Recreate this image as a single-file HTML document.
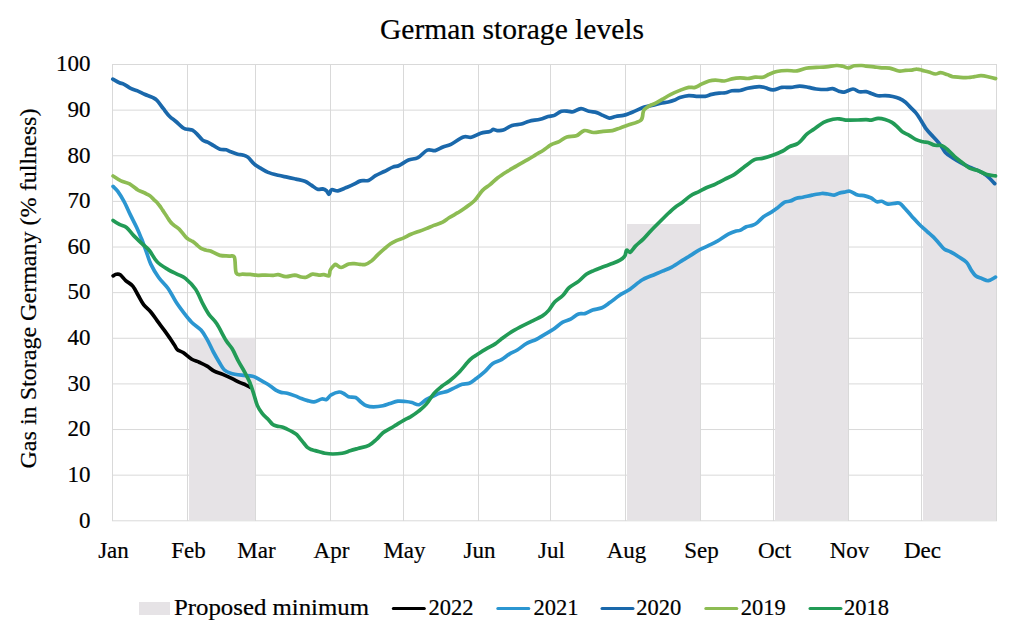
<!DOCTYPE html><html><head><meta charset="utf-8"><style>html,body{margin:0;padding:0;background:#fff;}svg{display:block;}text{font-family:"Liberation Serif",serif;fill:#000;stroke:#000;stroke-width:0.2px;}</style></head><body>
<svg width="1024" height="637" viewBox="0 0 1024 637">
<rect x="0" y="0" width="1024" height="637" fill="#fff"/>
<line x1="112" y1="520.80" x2="997" y2="520.80" stroke="#d9d9d9" stroke-width="1"/>
<line x1="112" y1="475.17" x2="997" y2="475.17" stroke="#d9d9d9" stroke-width="1"/>
<line x1="112" y1="429.54" x2="997" y2="429.54" stroke="#d9d9d9" stroke-width="1"/>
<line x1="112" y1="383.91" x2="997" y2="383.91" stroke="#d9d9d9" stroke-width="1"/>
<line x1="112" y1="338.28" x2="997" y2="338.28" stroke="#d9d9d9" stroke-width="1"/>
<line x1="112" y1="292.65" x2="997" y2="292.65" stroke="#d9d9d9" stroke-width="1"/>
<line x1="112" y1="247.02" x2="997" y2="247.02" stroke="#d9d9d9" stroke-width="1"/>
<line x1="112" y1="201.39" x2="997" y2="201.39" stroke="#d9d9d9" stroke-width="1"/>
<line x1="112" y1="155.76" x2="997" y2="155.76" stroke="#d9d9d9" stroke-width="1"/>
<line x1="112" y1="110.13" x2="997" y2="110.13" stroke="#d9d9d9" stroke-width="1"/>
<line x1="112" y1="64.50" x2="997" y2="64.50" stroke="#d9d9d9" stroke-width="1"/>
<line x1="112.5" y1="64" x2="112.5" y2="521" stroke="#d9d9d9" stroke-width="1"/>
<line x1="187.5" y1="64" x2="187.5" y2="521" stroke="#d9d9d9" stroke-width="1"/>
<line x1="255.5" y1="64" x2="255.5" y2="521" stroke="#d9d9d9" stroke-width="1"/>
<line x1="330.5" y1="64" x2="330.5" y2="521" stroke="#d9d9d9" stroke-width="1"/>
<line x1="403.5" y1="64" x2="403.5" y2="521" stroke="#d9d9d9" stroke-width="1"/>
<line x1="478.5" y1="64" x2="478.5" y2="521" stroke="#d9d9d9" stroke-width="1"/>
<line x1="550.5" y1="64" x2="550.5" y2="521" stroke="#d9d9d9" stroke-width="1"/>
<line x1="625.5" y1="64" x2="625.5" y2="521" stroke="#d9d9d9" stroke-width="1"/>
<line x1="700.5" y1="64" x2="700.5" y2="521" stroke="#d9d9d9" stroke-width="1"/>
<line x1="773.5" y1="64" x2="773.5" y2="521" stroke="#d9d9d9" stroke-width="1"/>
<line x1="848.5" y1="64" x2="848.5" y2="521" stroke="#d9d9d9" stroke-width="1"/>
<line x1="921.5" y1="64" x2="921.5" y2="521" stroke="#d9d9d9" stroke-width="1"/>
<line x1="996.5" y1="64" x2="996.5" y2="521" stroke="#d9d9d9" stroke-width="1"/>
<rect x="189" y="338" width="66" height="182" fill="#e6e3e6"/>
<rect x="627" y="224" width="73" height="296" fill="#e6e3e6"/>
<rect x="775" y="155" width="73" height="365" fill="#e6e3e6"/>
<rect x="923" y="110" width="73" height="410" fill="#e6e3e6"/>
<path d="M113.1,275.9 C113.6,275.6 115.1,274.5 116.3,274.3 C117.5,274.1 118.6,273.8 120.2,274.8 C121.8,275.9 123.6,278.7 125.7,280.6 C127.8,282.5 130.7,283.6 132.8,286.1 C134.9,288.6 136.5,292.4 138.3,295.5 C140.1,298.6 141.7,302.1 143.8,304.9 C145.9,307.6 148.6,309.4 150.8,312.0 C153.0,314.6 154.9,317.6 157.1,320.6 C159.3,323.6 162.1,327.2 164.2,330.1 C166.3,333.0 168.0,335.4 169.7,337.9 C171.4,340.4 173.1,343.1 174.4,345.0 C175.7,346.9 175.8,348.3 177.3,349.6 C178.8,350.9 181.2,351.2 183.5,352.8 C185.8,354.4 188.8,357.4 191.4,359.0 C194.0,360.6 196.6,361.0 199.2,362.2 C201.8,363.4 204.6,364.6 207.1,366.1 C209.6,367.6 211.6,369.7 214.2,371.1 C216.8,372.5 219.8,373.1 222.8,374.4 C225.8,375.7 229.3,377.3 232.2,378.7 C235.1,380.1 237.9,381.6 240.1,382.6 C242.3,383.6 243.9,384.1 245.6,384.9 C247.3,385.7 249.5,386.9 250.3,387.3" fill="none" stroke="#000000" stroke-width="3.7" stroke-linejoin="round" stroke-linecap="round"/>
<path d="M113.1,186.4 C113.9,187.2 116.0,188.9 117.8,191.4 C119.6,193.9 122.0,197.7 124.1,201.6 C126.2,205.5 128.3,210.6 130.4,214.9 C132.5,219.2 134.9,223.6 136.7,227.5 C138.5,231.4 139.8,234.6 141.4,238.5 C143.0,242.4 144.5,246.7 146.1,251.0 C147.7,255.3 148.7,259.7 150.8,264.1 C152.9,268.5 155.8,273.4 158.7,277.5 C161.6,281.6 165.2,284.4 168.1,288.5 C171.0,292.6 173.3,297.8 175.9,301.8 C178.5,305.9 181.2,309.4 183.8,312.8 C186.4,316.2 188.7,319.3 191.6,322.2 C194.5,325.1 198.4,327.2 201.0,330.1 C203.6,333.0 205.0,335.8 207.1,339.4 C209.2,343.0 211.3,348.1 213.4,352.0 C215.5,355.9 217.9,360.0 219.7,363.0 C221.5,366.0 222.6,368.3 224.4,370.0 C226.2,371.7 227.7,372.3 230.6,373.2 C233.5,374.1 237.9,374.7 241.6,375.2 C245.3,375.7 249.4,375.5 252.6,376.3 C255.8,377.1 257.6,378.6 260.5,380.2 C263.4,381.8 267.3,384.0 269.9,385.7 C272.5,387.4 274.4,389.3 276.3,390.4 C278.2,391.5 279.2,391.9 281.0,392.4 C282.8,392.9 284.9,392.6 287.3,393.2 C289.7,393.8 292.8,395.0 295.1,395.9 C297.5,396.8 299.3,397.8 301.4,398.6 C303.5,399.4 305.6,400.1 307.7,400.6 C309.8,401.2 311.6,402.2 314.0,401.9 C316.4,401.6 319.7,399.4 321.8,399.0 C323.9,398.6 324.9,400.2 326.5,399.5 C328.1,398.8 329.1,396.1 331.2,394.8 C333.3,393.6 337.0,392.2 339.1,392.0 C341.2,391.8 342.2,392.7 343.8,393.5 C345.4,394.3 346.5,396.0 348.5,396.7 C350.5,397.4 353.5,396.6 355.6,397.5 C357.7,398.4 359.3,400.8 361.1,402.2 C362.9,403.6 364.4,405.0 366.5,405.8 C368.6,406.6 370.9,406.9 373.6,406.9 C376.4,406.9 380.3,406.4 383.0,405.8 C385.7,405.2 387.5,404.4 390.0,403.6 C392.5,402.8 395.2,401.6 397.8,401.2 C400.4,400.8 403.3,401.3 405.7,401.5 C408.1,401.7 409.8,402.0 412.0,402.5 C414.2,403.0 416.6,405.2 419.0,404.7 C421.4,404.2 423.6,401.2 426.1,399.7 C428.6,398.2 431.6,396.8 434.0,395.7 C436.4,394.6 437.8,393.9 440.2,393.1 C442.6,392.3 445.5,392.0 448.1,391.0 C450.7,390.0 453.5,388.2 455.9,387.1 C458.2,386.0 460.0,385.0 462.2,384.3 C464.4,383.6 466.9,384.2 469.3,383.2 C471.7,382.2 473.8,380.3 476.3,378.5 C478.8,376.7 481.4,374.7 484.2,372.2 C486.9,369.7 489.9,365.6 492.8,363.5 C495.7,361.4 498.8,361.2 501.5,359.6 C504.2,358.0 506.7,355.7 509.3,354.1 C511.9,352.5 514.4,351.8 517.3,350.0 C520.2,348.2 523.6,345.1 526.7,343.4 C529.8,341.6 533.2,340.9 536.1,339.5 C539.0,338.1 541.1,336.5 544.0,334.8 C546.9,333.1 550.3,331.4 553.4,329.3 C556.5,327.2 559.9,323.9 562.8,322.2 C565.7,320.5 568.0,320.5 570.6,319.1 C573.2,317.7 576.1,314.9 578.5,314.0 C580.9,313.1 582.4,314.2 584.8,313.6 C587.1,313.0 589.7,311.1 592.6,310.1 C595.5,309.1 599.1,309.1 602.0,307.8 C604.9,306.6 607.0,304.7 609.9,302.6 C612.8,300.6 615.9,297.7 619.3,295.5 C622.6,293.3 626.2,291.8 630.0,289.2 C633.8,286.6 638.4,282.2 642.0,280.0 C645.6,277.8 648.0,277.3 651.4,275.8 C654.8,274.3 659.0,272.6 662.4,271.1 C665.8,269.7 668.4,268.9 671.8,267.1 C675.2,265.3 679.7,262.1 682.8,260.1 C685.9,258.2 688.0,257.0 690.6,255.4 C693.2,253.8 695.6,251.9 698.5,250.3 C701.4,248.7 704.8,247.4 707.9,245.9 C711.0,244.4 713.9,243.1 717.3,241.2 C720.7,239.2 725.1,235.9 728.3,234.2 C731.4,232.5 734.2,231.6 736.2,231.0 C738.2,230.4 738.3,231.1 740.0,230.4 C741.7,229.7 744.2,227.7 746.3,226.8 C748.4,226.0 750.8,226.0 752.6,225.3 C754.4,224.6 755.5,224.0 757.3,222.6 C759.1,221.2 761.1,218.6 763.5,216.8 C765.9,215.1 769.0,213.6 771.4,212.1 C773.8,210.6 775.5,209.3 777.7,207.7 C779.9,206.0 782.6,203.3 784.7,202.2 C786.8,201.1 788.2,201.8 790.2,201.1 C792.2,200.4 794.4,199.0 796.5,198.3 C798.6,197.7 800.2,197.7 802.8,197.2 C805.4,196.7 809.1,195.7 812.2,195.1 C815.3,194.5 819.0,193.7 821.6,193.5 C824.2,193.3 825.8,193.7 827.9,194.0 C830.0,194.3 832.4,195.2 834.2,195.1 C836.0,195.0 837.1,193.7 838.9,193.2 C840.7,192.7 843.4,192.3 845.2,192.0 C847.0,191.7 847.8,190.7 849.9,191.2 C852.0,191.7 855.4,194.4 857.7,195.1 C860.1,195.8 861.8,195.1 864.0,195.6 C866.2,196.1 868.5,196.8 870.7,197.8 C872.9,198.8 875.2,201.2 877.0,201.8 C878.8,202.4 879.9,200.9 881.7,201.3 C883.5,201.7 885.9,203.8 888.0,204.1 C890.1,204.4 892.3,203.4 894.3,203.3 C896.3,203.2 898.0,202.4 899.8,203.3 C901.6,204.2 903.2,206.7 905.2,208.8 C907.2,210.9 909.1,213.3 911.5,215.9 C913.9,218.5 916.8,221.9 919.4,224.5 C922.0,227.1 924.9,229.5 927.2,231.6 C929.6,233.7 931.4,235.0 933.5,237.1 C935.6,239.2 938.0,242.2 939.8,244.2 C941.6,246.2 942.7,248.0 944.5,249.3 C946.3,250.6 948.4,250.8 950.8,252.0 C953.1,253.2 956.0,255.0 958.6,256.7 C961.2,258.4 964.4,260.0 966.5,262.2 C968.6,264.4 969.6,267.8 971.2,270.1 C972.8,272.4 974.1,274.6 975.9,276.0 C977.7,277.4 980.1,277.9 982.2,278.7 C984.3,279.5 986.2,281.0 988.4,280.7 C990.6,280.4 994.3,277.7 995.5,277.1" fill="none" stroke="#2b96d1" stroke-width="3.7" stroke-linejoin="round" stroke-linecap="round"/>
<path d="M112.8,79.2 C113.9,79.8 117.5,82.0 119.4,82.8 C121.3,83.6 122.1,83.3 124.1,84.3 C126.1,85.3 129.0,87.6 131.2,88.7 C133.4,89.8 135.3,90.0 137.5,90.9 C139.7,91.8 142.0,93.1 144.5,94.2 C147.0,95.3 150.3,96.4 152.4,97.4 C154.5,98.5 155.3,98.6 157.1,100.5 C158.9,102.4 161.3,106.0 163.4,108.7 C165.5,111.4 167.6,114.4 169.7,116.5 C171.8,118.6 173.6,119.5 175.9,121.5 C178.2,123.5 181.7,127.0 183.8,128.3 C185.9,129.6 187.1,129.1 188.5,129.4 C189.9,129.7 191.0,129.4 192.4,130.2 C193.8,131.0 195.4,132.4 197.1,134.1 C198.8,135.8 200.8,138.7 202.6,140.1 C204.4,141.5 206.3,141.5 208.1,142.4 C209.9,143.3 211.6,144.5 213.6,145.6 C215.6,146.7 217.8,148.5 219.9,149.2 C222.0,149.9 224.5,149.4 226.2,149.8 C227.9,150.2 228.1,150.7 230.0,151.4 C231.9,152.1 235.5,153.6 237.6,154.2 C239.7,154.8 241.0,154.5 242.7,155.0 C244.4,155.5 245.9,155.6 247.8,157.1 C249.7,158.6 252.0,162.1 254.1,163.9 C256.2,165.8 258.2,166.8 260.5,168.2 C262.8,169.6 265.2,171.2 268.1,172.4 C271.1,173.6 275.0,174.5 278.2,175.3 C281.4,176.1 284.1,176.5 287.1,177.1 C290.1,177.7 293.0,178.4 296.0,179.1 C299.0,179.8 302.3,180.3 304.9,181.3 C307.4,182.3 309.2,183.8 311.3,185.1 C313.4,186.4 315.7,188.7 317.6,189.3 C319.5,189.9 321.2,188.7 322.7,188.9 C324.2,189.2 325.4,189.9 326.5,190.8 C327.6,191.7 328.1,194.5 329.0,194.3 C329.9,194.1 330.1,190.4 331.6,189.8 C333.1,189.2 335.5,191.1 337.9,190.8 C340.2,190.5 343.1,188.9 345.7,187.8 C348.3,186.7 351.0,185.6 353.5,184.4 C356.0,183.2 358.1,181.6 360.6,180.9 C363.1,180.2 366.0,181.3 368.5,180.4 C371.0,179.5 372.9,177.2 375.5,175.7 C378.1,174.2 381.3,172.9 384.2,171.5 C387.1,170.1 390.3,168.1 392.8,167.1 C395.3,166.1 396.5,166.7 399.1,165.5 C401.7,164.3 405.4,161.3 408.5,160.0 C411.6,158.7 414.8,159.3 417.9,157.7 C421.0,156.0 424.4,151.3 427.3,150.1 C430.2,148.9 432.6,151.1 435.2,150.6 C437.8,150.1 440.4,148.1 443.0,147.0 C445.6,145.9 447.5,146.0 450.9,144.3 C454.3,142.6 460.0,138.2 463.4,137.0 C466.8,135.8 468.4,137.9 471.3,137.3 C474.2,136.7 477.6,134.3 480.7,133.3 C483.8,132.3 487.9,132.1 490.0,131.4 C492.1,130.8 491.9,129.5 493.1,129.4 C494.3,129.3 495.4,130.5 497.1,130.6 C498.8,130.7 500.8,131.0 503.3,130.1 C505.8,129.2 509.0,126.4 512.0,125.4 C515.0,124.4 518.5,124.7 521.4,124.0 C524.3,123.3 526.1,122.0 529.2,121.2 C532.3,120.4 537.1,120.0 540.2,119.2 C543.4,118.4 545.7,117.1 548.1,116.5 C550.5,115.9 552.2,116.3 554.4,115.4 C556.6,114.5 559.0,112.0 561.4,111.3 C563.8,110.6 566.5,111.2 568.5,111.3 C570.5,111.4 571.1,112.2 573.2,111.8 C575.3,111.3 578.4,108.7 581.0,108.6 C583.6,108.5 586.3,110.6 588.9,111.3 C591.5,112.0 594.4,111.9 596.8,112.6 C599.1,113.3 600.9,114.5 603.0,115.4 C605.1,116.3 607.2,117.9 609.3,118.1 C611.4,118.3 613.2,117.0 615.6,116.5 C618.0,116.0 621.0,115.9 623.4,115.4 C625.8,114.9 627.7,114.0 629.7,113.3 C631.7,112.5 633.0,111.9 635.4,110.9 C637.8,109.9 641.3,108.1 644.3,107.1 C647.3,106.1 650.5,105.8 653.2,105.1 C656.0,104.4 658.3,103.7 660.8,103.2 C663.3,102.7 666.1,102.5 668.4,102.0 C670.7,101.5 672.8,100.8 674.7,100.1 C676.6,99.3 677.5,98.2 679.8,97.5 C682.1,96.8 686.0,95.8 688.7,95.6 C691.5,95.4 693.5,96.2 696.3,96.3 C699.0,96.4 702.7,96.6 705.2,96.3 C707.8,96.0 709.3,94.9 711.6,94.4 C713.9,93.9 716.9,93.4 719.2,93.1 C721.5,92.8 723.4,93.2 725.5,92.8 C727.6,92.4 729.5,91.2 731.9,90.8 C734.3,90.4 737.4,90.9 740.0,90.5 C742.6,90.1 744.4,88.9 747.6,88.3 C750.8,87.7 756.0,86.8 759.0,86.7 C762.0,86.6 763.1,87.3 765.4,87.8 C767.7,88.3 770.2,90.0 773.0,89.9 C775.8,89.8 778.9,87.8 781.9,87.4 C784.9,87.0 787.8,87.6 790.8,87.4 C793.8,87.2 796.7,86.1 799.7,86.1 C802.7,86.1 805.9,86.9 808.6,87.4 C811.4,87.9 813.2,88.7 816.2,89.0 C819.2,89.3 823.5,89.6 826.3,89.5 C829.0,89.4 830.6,88.3 832.7,88.6 C834.8,88.9 837.1,90.6 839.0,91.2 C840.9,91.8 841.8,92.5 844.1,92.1 C846.4,91.7 850.5,89.0 853.0,89.0 C855.5,89.0 857.1,91.3 859.3,91.8 C861.5,92.2 864.0,91.4 866.0,91.7 C868.0,92.0 869.2,92.7 871.2,93.4 C873.2,94.1 875.4,95.4 877.8,95.8 C880.1,96.2 882.8,95.5 885.3,95.6 C887.8,95.7 890.4,96.0 892.7,96.5 C895.1,97.0 897.3,97.5 899.4,98.5 C901.5,99.5 903.6,100.8 905.5,102.3 C907.4,103.8 908.8,105.7 910.5,107.4 C912.2,109.1 914.2,110.8 915.7,112.6 C917.2,114.4 917.7,115.2 919.5,118.0 C921.3,120.8 924.1,126.0 926.4,129.2 C928.7,132.4 931.1,134.4 933.4,137.0 C935.7,139.6 938.3,142.2 940.3,144.8 C942.3,147.4 943.4,150.3 945.4,152.5 C947.4,154.7 949.8,156.0 952.4,157.7 C955.0,159.4 958.1,161.3 961.0,162.9 C963.9,164.5 966.7,165.9 969.6,167.2 C972.5,168.5 975.4,169.2 978.3,170.7 C981.2,172.1 984.2,173.8 986.9,175.9 C989.6,178.1 993.4,182.3 994.7,183.6" fill="none" stroke="#1a68ab" stroke-width="3.7" stroke-linejoin="round" stroke-linecap="round"/>
<path d="M113.1,176.0 C114.4,176.8 118.2,179.6 121.0,180.9 C123.8,182.2 126.8,182.4 129.6,183.9 C132.3,185.4 135.8,188.6 137.5,189.8 C139.2,191.0 138.9,190.6 140.0,191.0 C141.1,191.4 142.6,191.9 143.8,192.5 C145.1,193.1 146.2,193.7 147.5,194.4 C148.8,195.1 150.2,196.0 151.3,196.9 C152.5,197.8 153.4,199.1 154.4,200.1 C155.4,201.1 156.7,202.1 157.6,203.2 C158.5,204.2 159.3,205.2 160.1,206.4 C160.9,207.6 161.8,208.8 162.6,210.1 C163.4,211.3 164.3,212.6 165.1,213.9 C165.9,215.2 166.8,216.4 167.6,217.7 C168.4,218.9 169.3,220.3 170.1,221.4 C170.9,222.5 171.6,223.3 172.6,224.2 C173.6,225.1 175.2,226.0 176.3,226.9 C177.4,227.8 178.4,228.4 179.4,229.4 C180.4,230.4 181.6,231.9 182.6,233.2 C183.6,234.5 184.7,235.9 185.7,237.0 C186.7,238.1 187.7,238.8 188.8,239.5 C190.0,240.2 191.3,240.6 192.6,241.4 C193.9,242.2 195.2,243.4 196.4,244.5 C197.7,245.6 198.8,246.9 200.1,247.7 C201.3,248.5 202.6,249.0 203.9,249.5 C205.2,250.0 206.6,250.2 207.7,250.5 C208.8,250.8 208.5,250.2 210.5,251.0 C212.5,251.8 216.8,254.6 219.9,255.4 C223.0,256.2 226.9,255.8 229.3,256.1 C231.7,256.4 233.2,254.5 234.4,257.3 C235.6,260.1 234.9,270.4 236.3,273.2 C237.7,276.0 240.4,274.0 242.7,274.2 C245.0,274.4 247.8,274.2 250.3,274.4 C252.8,274.6 255.4,275.2 257.9,275.3 C260.4,275.4 262.9,275.1 265.5,275.1 C268.1,275.1 271.1,275.5 273.2,275.4 C275.3,275.3 276.1,274.5 278.2,274.7 C280.3,274.9 283.1,276.6 285.9,276.7 C288.6,276.8 292.2,275.1 294.7,275.1 C297.2,275.2 299.2,276.6 301.1,277.0 C303.0,277.4 304.3,277.7 306.2,277.2 C308.1,276.7 310.4,274.5 312.5,274.2 C314.6,273.9 317.0,275.0 318.9,275.1 C320.8,275.2 322.2,274.6 323.9,274.7 C325.6,274.8 327.9,276.5 329.0,275.7 C330.1,274.9 329.4,271.7 330.3,270.0 C331.2,268.3 333.2,266.2 334.1,265.3 C335.1,264.4 334.8,264.1 336.0,264.5 C337.2,264.9 339.0,267.6 341.1,267.5 C343.2,267.4 346.5,264.6 348.7,264.0 C350.9,263.4 352.5,263.6 354.4,263.6 C356.3,263.7 358.2,264.2 360.0,264.3 C361.8,264.4 363.3,265.1 365.2,264.5 C367.1,263.9 369.5,262.5 371.6,260.9 C373.7,259.2 375.8,256.6 377.9,254.6 C380.0,252.6 382.2,250.7 384.3,248.9 C386.4,247.1 388.5,245.2 390.6,243.8 C392.7,242.4 394.9,241.4 397.0,240.4 C399.1,239.4 401.0,239.1 403.3,238.1 C405.6,237.1 408.3,235.4 410.9,234.3 C413.4,233.2 416.1,232.4 418.6,231.5 C421.2,230.6 423.7,229.6 426.2,228.6 C428.7,227.6 431.1,226.5 433.8,225.4 C436.6,224.3 440.2,223.5 442.7,222.2 C445.2,220.9 446.5,219.4 449.0,217.8 C451.5,216.2 455.2,214.3 457.9,212.7 C460.6,211.0 462.2,209.9 465.0,207.9 C467.8,205.9 471.5,203.7 474.4,200.8 C477.3,197.9 479.7,193.3 482.3,190.6 C484.9,187.9 487.4,186.8 490.0,184.6 C492.6,182.4 494.9,179.9 497.8,177.7 C500.7,175.5 504.1,173.4 507.3,171.4 C510.5,169.4 513.3,167.9 516.7,165.9 C520.1,163.9 524.6,161.5 527.7,159.7 C530.8,157.9 532.9,156.5 535.5,154.9 C538.1,153.3 540.8,151.9 543.4,150.2 C546.0,148.5 548.6,146.1 551.2,144.7 C553.8,143.3 556.5,142.9 559.1,141.6 C561.7,140.3 564.0,137.9 566.9,136.9 C569.8,135.9 573.4,136.9 576.3,135.8 C579.2,134.8 581.3,131.2 584.2,130.6 C587.1,130.0 590.5,132.4 593.6,132.5 C596.7,132.6 599.9,131.7 603.0,131.4 C606.1,131.1 609.5,131.2 612.4,130.6 C615.3,130.0 617.7,128.8 620.3,127.9 C622.9,127.0 624.7,126.3 628.1,125.1 C631.5,123.8 638.2,122.5 640.7,120.4 C643.2,118.3 642.5,114.4 643.1,112.6 C643.7,110.8 643.2,110.7 644.3,109.6 C645.3,108.5 647.5,106.9 649.4,105.8 C651.3,104.7 653.4,104.4 655.7,103.2 C658.0,102.0 660.8,100.3 663.3,98.8 C665.8,97.3 667.9,95.9 670.9,94.4 C673.9,92.9 678.1,91.1 681.1,89.9 C684.1,88.7 686.4,87.8 688.7,87.4 C691.0,87.0 693.0,87.9 695.1,87.4 C697.2,86.9 699.1,85.3 701.4,84.2 C703.7,83.1 706.7,81.7 709.0,81.0 C711.3,80.3 712.9,80.1 715.4,80.1 C717.9,80.1 721.5,81.2 724.3,81.0 C727.0,80.8 729.3,79.4 731.9,78.9 C734.5,78.4 737.4,78.0 740.0,77.9 C742.6,77.8 745.1,78.6 747.6,78.5 C750.1,78.4 752.7,77.4 755.2,77.2 C757.8,77.0 760.6,77.7 762.9,77.2 C765.2,76.7 766.9,75.2 769.2,74.3 C771.5,73.3 773.8,72.1 776.8,71.5 C779.8,70.9 783.6,70.6 787.0,70.5 C790.4,70.4 793.9,71.3 797.1,70.9 C800.3,70.5 802.8,68.9 806.0,68.3 C809.2,67.7 812.8,67.7 816.2,67.4 C819.6,67.2 822.9,67.1 826.3,66.8 C829.7,66.5 833.8,65.6 836.5,65.5 C839.2,65.4 840.8,65.8 842.8,66.2 C844.8,66.6 846.6,68.1 848.5,68.0 C850.4,67.9 852.1,66.2 854.3,65.8 C856.5,65.4 859.9,65.5 861.9,65.5 C863.9,65.5 864.0,65.9 866.0,66.1 C868.0,66.3 871.3,66.5 873.9,66.8 C876.5,67.1 879.1,67.6 881.7,67.8 C884.3,68.0 886.8,67.6 889.6,68.1 C892.4,68.6 896.1,70.6 898.7,71.0 C901.3,71.4 903.1,70.6 905.3,70.4 C907.5,70.2 909.8,70.3 911.8,70.1 C913.8,69.9 915.2,69.0 917.0,69.1 C918.8,69.1 920.3,69.9 922.3,70.4 C924.3,70.9 926.6,71.4 928.8,72.0 C931.0,72.6 933.4,73.9 935.4,74.0 C937.4,74.1 938.6,72.6 940.6,72.7 C942.6,72.8 945.2,73.9 947.2,74.6 C949.2,75.2 950.2,76.1 952.4,76.6 C954.6,77.0 957.6,77.1 960.2,77.3 C962.8,77.5 965.7,77.6 968.1,77.5 C970.5,77.4 972.4,76.9 974.6,76.6 C976.8,76.3 978.8,75.6 981.2,75.7 C983.6,75.8 986.6,76.5 989.0,77.0 C991.4,77.5 994.5,78.3 995.6,78.6" fill="none" stroke="#8dbc53" stroke-width="3.7" stroke-linejoin="round" stroke-linecap="round"/>
<path d="M113.1,220.4 C114.1,221.1 117.2,223.2 119.4,224.4 C121.6,225.6 124.2,225.7 126.5,227.5 C128.8,229.3 131.0,232.8 133.5,235.4 C136.0,238.0 138.8,240.7 141.4,243.2 C144.0,245.7 146.6,247.2 149.2,250.3 C151.8,253.4 153.9,258.6 157.1,261.8 C160.2,265.0 164.7,267.5 168.1,269.6 C171.5,271.7 174.6,272.9 177.5,274.3 C180.4,275.8 182.4,275.8 185.4,278.3 C188.4,280.8 192.7,285.0 195.6,289.2 C198.5,293.4 200.4,299.2 202.6,303.4 C204.8,307.6 206.5,311.0 208.9,314.4 C211.3,317.8 214.0,319.5 216.8,323.8 C219.6,328.1 223.3,336.0 225.9,340.2 C228.5,344.4 230.1,345.3 232.2,348.8 C234.3,352.3 236.4,357.5 238.5,361.4 C240.6,365.3 243.0,369.0 244.8,372.4 C246.6,375.8 248.1,378.4 249.5,381.8 C250.9,385.2 252.1,388.9 253.4,392.8 C254.7,396.7 255.9,402.0 257.3,405.4 C258.7,408.8 260.2,410.8 262.0,413.2 C263.8,415.6 266.5,417.6 268.3,419.5 C270.1,421.4 271.3,423.4 272.8,424.5 C274.3,425.6 275.6,425.7 277.1,426.1 C278.6,426.5 280.4,426.5 282.0,427.0 C283.6,427.5 285.2,428.3 287.0,429.1 C288.8,429.9 291.0,431.0 292.6,431.9 C294.2,432.8 295.5,433.5 296.8,434.7 C298.1,435.9 299.2,437.6 300.4,439.0 C301.6,440.4 302.7,441.8 303.9,443.2 C305.1,444.6 306.2,446.3 307.4,447.4 C308.6,448.4 309.7,449.0 311.0,449.5 C312.3,450.0 313.8,450.2 315.2,450.6 C316.6,451.0 317.8,451.3 319.4,451.7 C321.0,452.1 322.7,452.8 324.9,453.2 C327.1,453.6 329.9,454.0 332.8,454.0 C335.7,454.0 339.3,453.7 342.2,453.2 C345.1,452.7 347.5,451.6 350.1,450.8 C352.7,450.0 354.8,449.4 357.9,448.5 C361.0,447.6 365.8,447.0 368.9,445.4 C372.0,443.8 374.4,441.2 376.8,439.1 C379.2,437.0 380.7,434.6 383.0,432.8 C385.3,431.0 388.2,429.7 390.4,428.4 C392.6,427.1 394.0,426.2 396.3,424.8 C398.6,423.4 401.8,421.4 404.1,420.1 C406.5,418.8 408.0,418.3 410.4,416.9 C412.8,415.4 415.7,413.5 418.3,411.4 C420.9,409.3 423.5,407.4 426.1,404.4 C428.7,401.4 431.4,396.4 434.0,393.4 C436.6,390.4 439.2,388.4 441.8,386.3 C444.4,384.2 446.8,383.2 449.7,380.8 C452.6,378.4 455.7,375.7 459.1,372.2 C462.5,368.7 467.0,362.6 470.1,359.6 C473.2,356.6 475.3,355.9 477.9,354.1 C480.5,352.4 482.9,350.8 485.8,349.1 C488.7,347.4 492.8,345.5 495.2,343.9 C497.6,342.3 498.1,341.5 500.5,339.7 C502.9,337.9 506.1,335.3 509.4,333.2 C512.7,331.1 516.7,328.9 520.4,326.9 C524.1,324.9 527.7,323.2 531.4,321.4 C535.1,319.6 539.5,317.7 542.4,315.9 C545.3,314.1 546.6,312.8 548.7,310.4 C550.8,308.0 552.5,304.3 554.9,301.8 C557.2,299.3 560.4,297.9 562.8,295.5 C565.2,293.1 566.5,290.1 569.1,287.7 C571.7,285.3 575.6,283.6 578.5,281.4 C581.4,279.2 583.7,276.1 586.3,274.3 C588.9,272.5 591.6,271.6 594.2,270.4 C596.8,269.2 598.9,268.5 602.0,267.3 C605.1,266.1 610.0,264.5 613.0,263.3 C616.0,262.1 618.0,261.3 620.0,260.1 C622.0,258.9 623.6,257.7 624.7,256.1 C625.8,254.5 625.7,251.0 626.6,250.3 C627.5,249.7 628.7,252.9 630.2,252.2 C631.7,251.5 633.5,248.1 635.7,245.9 C637.9,243.7 640.9,241.5 643.5,238.9 C646.1,236.3 648.5,233.2 651.4,230.2 C654.3,227.2 657.9,223.7 660.8,220.8 C663.7,217.9 666.4,215.2 668.7,213.0 C671.1,210.8 672.5,209.3 674.9,207.5 C677.2,205.7 680.2,204.0 682.8,202.0 C685.4,200.0 688.0,197.4 690.6,195.7 C693.2,194.0 695.9,193.1 698.5,191.8 C701.1,190.5 703.7,189.0 706.3,187.8 C708.9,186.6 711.9,185.7 714.2,184.7 C716.5,183.7 718.3,182.6 720.3,181.6 C722.3,180.6 724.0,179.7 726.3,178.5 C728.6,177.3 731.2,176.4 734.1,174.6 C737.0,172.8 740.1,170.0 743.5,167.5 C746.9,165.0 751.4,161.2 754.5,159.7 C757.6,158.2 759.2,159.2 762.4,158.4 C765.5,157.6 770.0,156.1 773.4,154.9 C776.8,153.7 780.2,152.3 782.8,151.0 C785.4,149.7 786.8,148.0 789.1,146.8 C791.5,145.6 794.8,145.1 796.9,144.0 C799.0,142.9 799.9,141.7 801.6,140.0 C803.3,138.3 805.0,135.6 807.1,133.8 C809.2,132.0 811.5,130.9 814.2,129.0 C817.0,127.1 820.5,123.9 823.6,122.3 C826.7,120.7 830.4,119.8 833.0,119.2 C835.6,118.6 837.2,118.7 839.3,118.8 C841.4,118.9 843.8,119.9 845.6,120.1 C847.4,120.3 847.9,120.1 850.0,120.1 C852.1,120.1 855.3,120.1 858.0,120.0 C860.7,119.9 863.8,119.7 866.0,119.7 C868.2,119.7 869.2,120.3 871.2,120.1 C873.2,119.9 875.8,118.4 878.1,118.3 C880.4,118.2 882.7,118.7 885.0,119.4 C887.3,120.1 889.9,121.1 891.9,122.3 C893.9,123.5 895.4,125.0 897.1,126.6 C898.8,128.2 900.3,130.4 902.3,131.8 C904.3,133.2 906.9,134.0 909.2,135.3 C911.5,136.6 913.8,138.5 916.1,139.6 C918.4,140.7 921.0,141.3 923.0,141.8 C925.0,142.3 926.2,141.9 928.2,142.5 C930.2,143.1 932.8,144.8 935.1,145.3 C937.4,145.8 939.7,144.7 942.0,145.6 C944.3,146.5 946.6,148.8 948.9,150.8 C951.2,152.8 953.5,155.7 955.8,157.7 C958.1,159.7 960.4,161.2 962.7,162.9 C965.0,164.6 967.0,166.8 969.6,168.1 C972.2,169.4 975.4,169.6 978.3,170.7 C981.2,171.8 984.0,173.7 986.9,174.6 C989.8,175.5 994.1,175.7 995.5,175.9" fill="none" stroke="#229b56" stroke-width="3.7" stroke-linejoin="round" stroke-linecap="round"/>
<text x="380" y="38.6" font-size="28.5" textLength="264" lengthAdjust="spacingAndGlyphs">German storage levels</text>
<text x="90.5" y="527.6" font-size="23" text-anchor="end">0</text>
<text x="90.5" y="482.0" font-size="23" text-anchor="end">10</text>
<text x="90.5" y="436.3" font-size="23" text-anchor="end">20</text>
<text x="90.5" y="390.7" font-size="23" text-anchor="end">30</text>
<text x="90.5" y="345.1" font-size="23" text-anchor="end">40</text>
<text x="90.5" y="299.4" font-size="23" text-anchor="end">50</text>
<text x="90.5" y="253.8" font-size="23" text-anchor="end">60</text>
<text x="90.5" y="208.2" font-size="23" text-anchor="end">70</text>
<text x="90.5" y="162.6" font-size="23" text-anchor="end">80</text>
<text x="90.5" y="116.9" font-size="23" text-anchor="end">90</text>
<text x="90.5" y="71.3" font-size="23" text-anchor="end">100</text>
<text x="113.5" y="558.4" font-size="23" text-anchor="middle">Jan</text>
<text x="188.5" y="558.4" font-size="23" text-anchor="middle">Feb</text>
<text x="256.5" y="558.4" font-size="23" text-anchor="middle">Mar</text>
<text x="331.5" y="558.4" font-size="23" text-anchor="middle">Apr</text>
<text x="404.5" y="558.4" font-size="23" text-anchor="middle">May</text>
<text x="479.5" y="558.4" font-size="23" text-anchor="middle">Jun</text>
<text x="551.5" y="558.4" font-size="23" text-anchor="middle">Jul</text>
<text x="626.5" y="558.4" font-size="23" text-anchor="middle">Aug</text>
<text x="701.5" y="558.4" font-size="23" text-anchor="middle">Sep</text>
<text x="774.5" y="558.4" font-size="23" text-anchor="middle">Oct</text>
<text x="849.5" y="558.4" font-size="23" text-anchor="middle">Nov</text>
<text x="922.5" y="558.4" font-size="23" text-anchor="middle">Dec</text>
<text transform="translate(36.2,468.5) rotate(-90)" x="0" y="0" font-size="23.5" textLength="360" lengthAdjust="spacingAndGlyphs">Gas in Storage Germany (% fullness)</text>
<rect x="139" y="602" width="31" height="13" fill="#e6e3e6"/>
<text x="174" y="614.8" font-size="23" textLength="195" lengthAdjust="spacingAndGlyphs">Proposed minimum</text>
<line x1="393.3" y1="608.5" x2="424.3" y2="608.5" stroke="#000000" stroke-width="3" stroke-linecap="round"/>
<text x="428.6" y="614.8" font-size="23" textLength="45" lengthAdjust="spacingAndGlyphs">2022</text>
<line x1="497.8" y1="608.5" x2="528.8" y2="608.5" stroke="#2b96d1" stroke-width="3" stroke-linecap="round"/>
<text x="533.5" y="614.8" font-size="23" textLength="45" lengthAdjust="spacingAndGlyphs">2021</text>
<line x1="602" y1="608.5" x2="633" y2="608.5" stroke="#1a68ab" stroke-width="3" stroke-linecap="round"/>
<text x="636.2" y="614.8" font-size="23" textLength="45" lengthAdjust="spacingAndGlyphs">2020</text>
<line x1="705.8" y1="608.5" x2="736.8" y2="608.5" stroke="#8dbc53" stroke-width="3" stroke-linecap="round"/>
<text x="740.7" y="614.8" font-size="23" textLength="45" lengthAdjust="spacingAndGlyphs">2019</text>
<line x1="810" y1="608.5" x2="841" y2="608.5" stroke="#229b56" stroke-width="3" stroke-linecap="round"/>
<text x="843.9" y="614.8" font-size="23" textLength="45" lengthAdjust="spacingAndGlyphs">2018</text>
</svg></body></html>
